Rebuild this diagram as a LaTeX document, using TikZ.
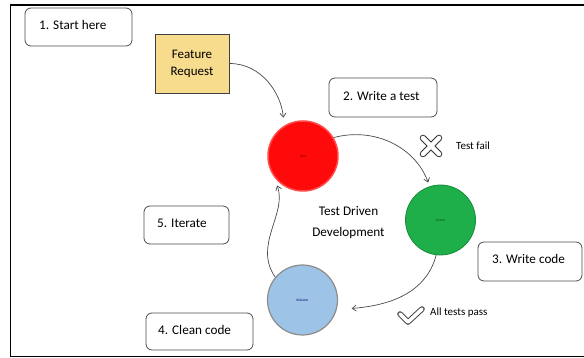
\documentclass[tikz,border=0pt]{standalone}
\usepackage{fontspec}
\setmainfont{Carlito}
\usetikzlibrary{arrows.meta,calc}
\definecolor{fyellow}{HTML}{F8DC8E}
\definecolor{redc}{HTML}{FF0A0A}
\definecolor{greenc}{HTML}{1FAF4A}
\definecolor{bluec}{HTML}{9DC3E6}
\definecolor{arr}{HTML}{4A4A4A}
\tikzset{
  stepbox/.style={draw=black!70, line width=0.8pt, rounded corners=6pt, fill=white, inner sep=0pt},
  steptxt/.style={anchor=west, inner sep=0pt, font=\fontsize{13.2}{15}\selectfont},
  cyc/.style={circle, minimum size=70pt, inner sep=0pt, font=\fontsize{3.5}{4}\selectfont},
  flow/.style={draw=arr, line width=0.7pt, -{Straight Barb[length=4pt,width=6pt]}},
  small/.style={font=\fontsize{11}{12}\selectfont, inner sep=0pt},
}
\begin{document}
\begin{tikzpicture}[x=1pt,y=-1pt]
\useasboundingbox (0,0) rectangle (584,358);
% frame
\draw[line width=1.6pt] (584,5) -- (10.5,5) -- (10.5,356.5) -- (584,356.5);
% boxes
\node[stepbox, minimum width=107pt, minimum height=38pt] (start) at (78.5,27) {};
\node[steptxt] (starttxt) at (39,25) {1. Start here};
\node[draw=black!75, fill=fyellow, line width=0.8pt, minimum width=74pt, minimum height=59pt, align=center, font=\fontsize{13}{17}\selectfont] (fr) at (192,63.5) {Feature\\Request};
\node[stepbox, minimum width=108pt, minimum height=39pt] (wt) at (383,97.5) {};
\node[steptxt] (wttxt) at (343,96) {2. Write a test};
\node[stepbox, minimum width=104pt, minimum height=39pt] (wc) at (530,261.5) {};
\node[steptxt] (wctxt) at (492,259) {3. Write code};
\node[stepbox, minimum width=107pt, minimum height=37pt] (cc) at (199.5,331.5) {};
\node[steptxt] (cctxt) at (158,329.5) {4. Clean code};
\node[stepbox, minimum width=85pt, minimum height=38pt] (it) at (186.5,225) {};
\node[steptxt] (ittxt) at (157,223) {5. Iterate};
% circles
\node[cyc, fill=redc, draw=red!70!white, line width=1.5pt, text=red!50!black] (red) at (303,156) {Red};
\node[cyc, fill=greenc, draw=greenc!80!black, line width=0.8pt, text=green!30!black] (green) at (440.5,220) {Green};
\node[cyc, fill=bluec, draw=black!45, line width=1.2pt, text=blue!40!black] (ref) at (302.5,300) {Refactor};
% centre text
\node[align=center, font=\fontsize{13.2}{21}\selectfont, inner sep=0pt] (tdd) at (348.5,223) {Test Driven\\Development};
% connectors
\draw[flow, shorten >=8pt] (fr.east) to[out=0, in=95] (red.122);
\draw[flow, shorten >=4pt] (red.31) to[out=15, in=110] (green.108);
\draw[flow, shorten >=15pt] (green.263) to[out=-105, in=5] (ref.-16);
\draw[flow, shorten >=9pt] (ref.140) to[out=125, in=-70] (red.216);
% icons
\coordinate (xc) at (431,146);
\draw[line width=6.5pt, line cap=round, black!80] ($(xc)+(-8,-8)$) -- ($(xc)+(8,8)$) ($(xc)+(8,-8)$) -- ($(xc)+(-8,8)$);
\draw[line width=4.5pt, line cap=round, white] ($(xc)+(-8,-8)$) -- ($(xc)+(8,8)$) ($(xc)+(8,-8)$) -- ($(xc)+(-8,8)$);
\node[small, anchor=west] (tf) at (456,146) {Test fail};
\coordinate (ck) at (408,322);
\draw[line width=5.5pt, line cap=round, line join=round, black!80] (400,314) -- (ck) -- (422,309);
\draw[line width=3.7pt, line cap=round, line join=round, white] (400,314) -- (ck) -- (422,309);
\node[small, anchor=west] (atp) at (430,313) {All tests pass};
\end{tikzpicture}
\end{document}
